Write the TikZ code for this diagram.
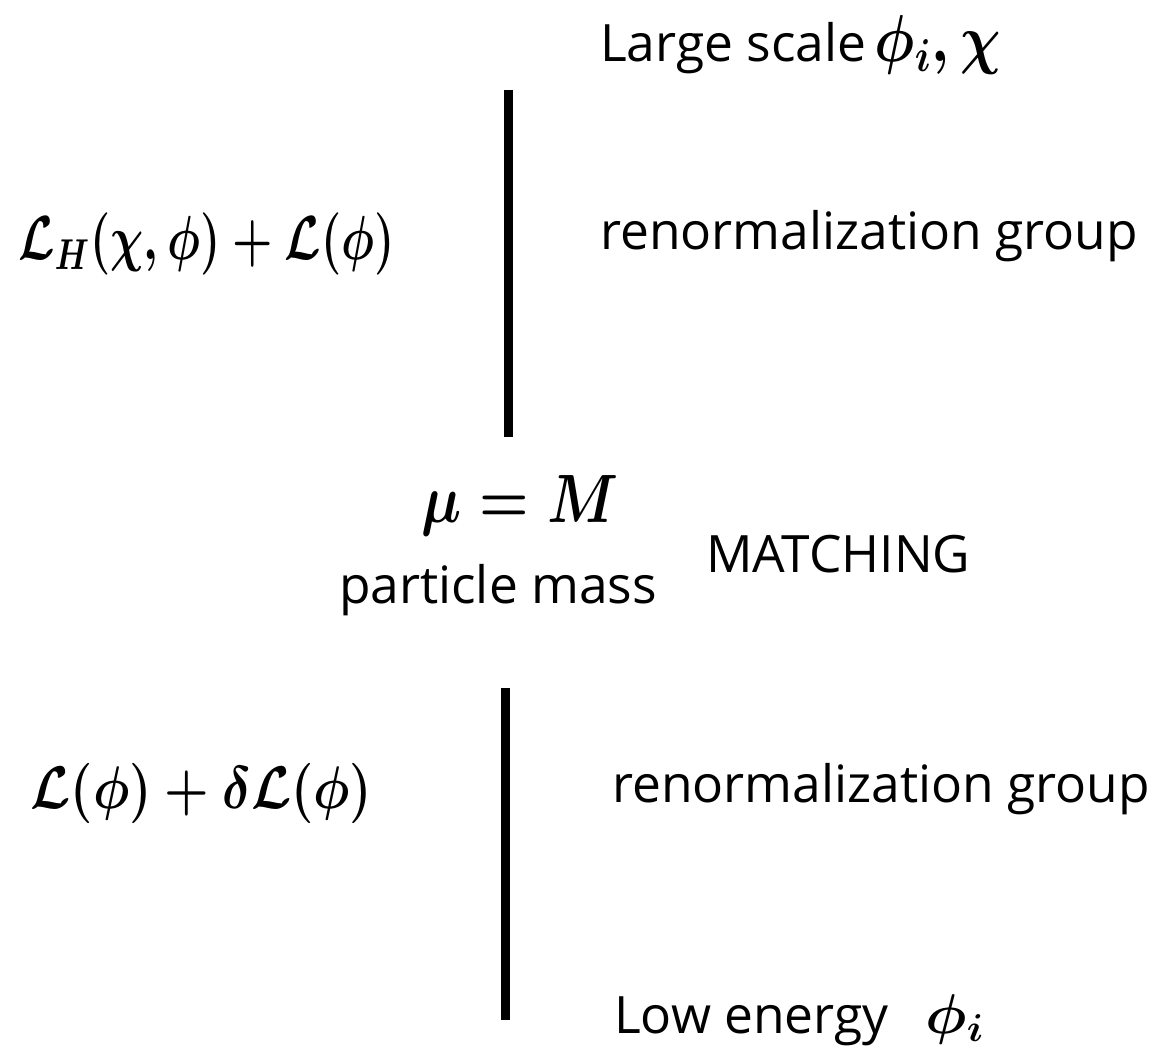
\documentclass[tikz,border=0pt]{standalone}
\usepackage{fontspec}
\setmainfont{Open Sans}
\begin{document}
\begin{tikzpicture}[x=1pt,y=-1pt,
  txt/.style={font=\fontsize{51.5}{60}\selectfont, inner sep=0pt, anchor=base west},
  mth/.style={font=\huge\boldmath, inner sep=0pt, anchor=base west},
  bar/.style={line width=9pt, line cap=butt}]
\useasboundingbox[fill=white] (0,0) rectangle (1156,1048);
\node[txt] (top) at (600,62) {Large scale};
\node[mth, xscale=2.72, yscale=3.2] (topm) at (874,62) {$\phi_i,\chi$};
\node[mth, xscale=2.23, yscale=3.0] (lh) at (18,260) {$\mathcal{L}_H(\chi,\phi)+\mathcal{L}(\phi)$};
\node[txt] (rg1) at (600,250) {renormalization group};
\coordinate (b1t) at (508,90);
\coordinate (b1b) at (508,437);
\draw[bar] (b1t) -- (b1b);
\node[mth, xscale=2.73, yscale=3.3, anchor=base] (mu) at (520,522) {$\mu=M$};
\node[txt, anchor=base] (pm) at (498,603) {particle mass};
\node[txt] (match) at (706,572) {MATCHING};
\node[mth, xscale=2.46, yscale=2.9] (ll) at (30,808) {$\mathcal{L}(\phi)+\delta\mathcal{L}(\phi)$};
\node[txt] (rg2) at (612,802) {renormalization group};
\coordinate (b2t) at (505,688);
\coordinate (b2b) at (505,1020);
\draw[bar] (b2t) -- (b2b);
\node[txt] (low) at (614,1033) {Low energy};
\node[mth, xscale=2.8, yscale=2.7] (lowm) at (925,1033) {$\phi_i$};
\end{tikzpicture}
\end{document}
